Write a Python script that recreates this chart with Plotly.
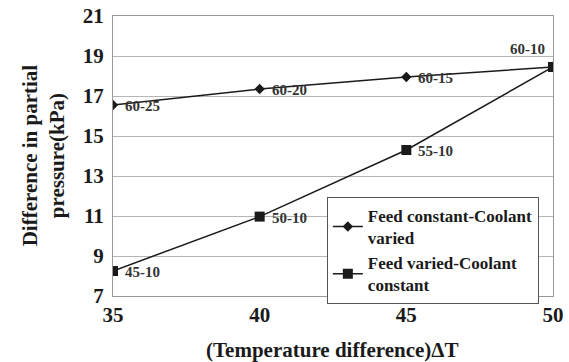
import plotly.graph_objects as go

# Temperature difference (x) and partial-pressure difference (kPa) for each case
delta_t = [35, 40, 45, 50]
coolant_varied = [16.55, 17.35, 17.95, 18.45]
coolant_labels = ["60-25", "60-20", "60-15", "60-10"]
feed_varied = [8.25, 10.97, 14.3, 18.45]
feed_labels = ["45-10", "50-10", "55-10", "60-10"]

x_ticks = [35, 40, 45, 50]
y_ticks = [7, 9, 11, 13, 15, 17, 19, 21]

FONT = "Liberation Serif"
INK = "#1a1a1a"
LABEL = dict(family=FONT, size=15, color="#333333", weight="bold")
TITLE = dict(family=FONT, size=21, color=INK, weight="bold")

fig = go.Figure()
fig.add_trace(go.Scatter(
    x=delta_t, y=coolant_varied, mode="lines+markers",
    name="Feed constant-Coolant<br>varied",
    line=dict(color=INK, width=1.5),
    marker=dict(symbol="diamond", size=8, color=INK),
))
fig.add_trace(go.Scatter(
    x=delta_t, y=feed_varied, mode="lines+markers",
    name="Feed varied-Coolant<br>constant",
    line=dict(color=INK, width=1.5),
    marker=dict(symbol="square", size=10, color=INK),
))

# point labels (the shared 60-10 end point is labelled once, above it)
annotations = []
for x, y, t in zip(delta_t[:-1], coolant_varied[:-1], coolant_labels[:-1]):
    annotations.append(dict(x=x, y=y, text=t, showarrow=False, xanchor="left",
                            yanchor="middle", xshift=10, yshift=-1, font=LABEL))
for x, y, t in zip(delta_t[:-1], feed_varied[:-1], feed_labels[:-1]):
    annotations.append(dict(x=x, y=y, text=t, showarrow=False, xanchor="left",
                            yanchor="middle", xshift=10, yshift=-1, font=LABEL))
annotations.append(dict(x=delta_t[-1], y=feed_varied[-1], text=feed_labels[-1],
                        showarrow=False, xanchor="right", yanchor="middle",
                        xshift=-6, yshift=18, font=LABEL))

# axis titles
annotations.append(dict(xref="paper", yref="paper", x=-0.158, y=0.504,
                        text="Difference in partial<br>pressure(kPa)",
                        textangle=-90, showarrow=False,
                        xanchor="center", yanchor="middle", font=TITLE))
annotations.append(dict(xref="paper", yref="paper", x=0.498, y=-0.193,
                        text="(Temperature difference)ΔT", showarrow=False,
                        xanchor="center", yanchor="middle", font=TITLE))

fig.update_layout(
    width=569, height=362,
    margin=dict(l=113, r=16, t=16, b=66),
    paper_bgcolor="white", plot_bgcolor="white",
    font=dict(family=FONT, color=INK),
    showlegend=True,
    legend=dict(
        x=0.486, y=0.354, xanchor="left", yanchor="top",
        bgcolor="white", bordercolor="#555555", borderwidth=1,
        font=dict(family=FONT, size=17, color=INK, weight="bold"),
        tracegroupgap=0, itemwidth=30,
    ),
    annotations=annotations,
    xaxis=dict(
        range=[35, 50], tickvals=x_ticks, ticks="", showgrid=False,
        showline=True, linecolor="#999999", linewidth=1, mirror=True,
        tickfont=dict(family=FONT, size=21, color=INK, weight="bold"),
        ticklabelstandoff=0, automargin=False, zeroline=False,
    ),
    yaxis=dict(
        range=[7, 21], tickvals=y_ticks, ticks="", showgrid=True,
        gridcolor="#b5b5b5", gridwidth=1,
        showline=True, linecolor="#999999", linewidth=1, mirror=True,
        tickfont=dict(family=FONT, size=21, color=INK, weight="bold"),
        ticklabelstandoff=4, automargin=False, zeroline=False,
    ),
)

fig.write_html("out.html")
